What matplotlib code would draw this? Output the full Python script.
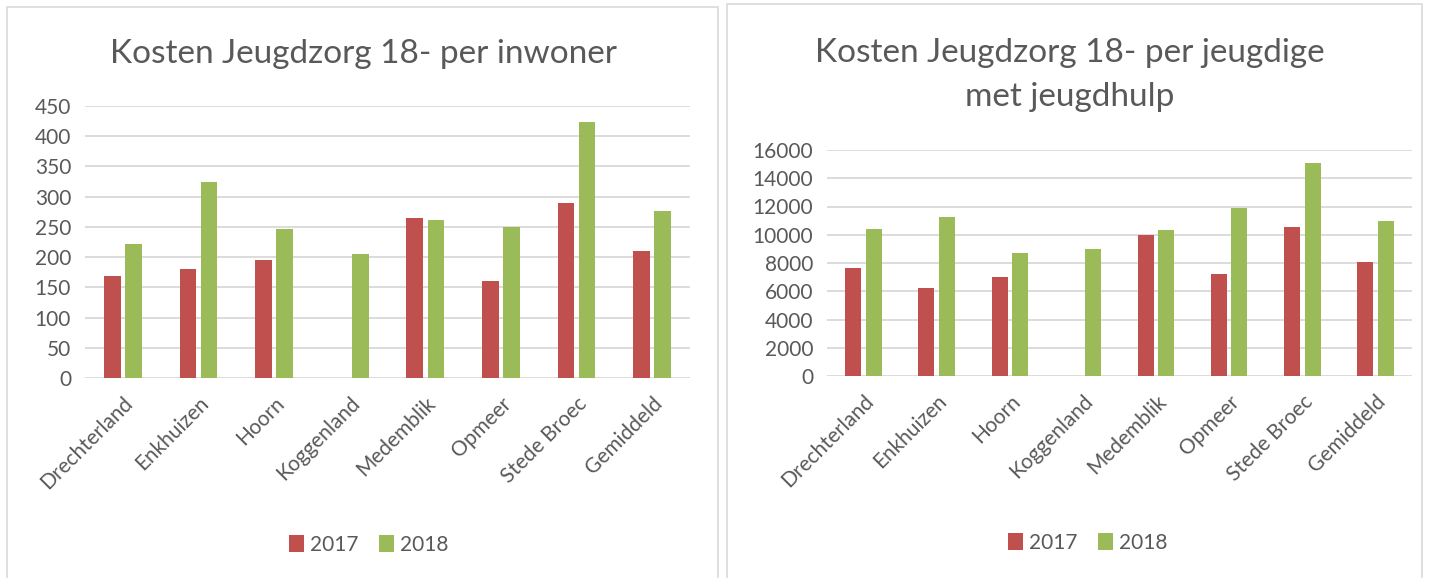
import matplotlib.pyplot as plt
import numpy as np
from matplotlib.patches import Rectangle

plt.rcParams['font.family'] = ['Lato', 'DejaVu Sans']

# data
gemeenten = ["Drechterland", "Enkhuizen", "Hoorn", "Koggenland",
             "Medemblik", "Opmeer", "Stede Broec", "Gemiddeld"]
inwoner_2017 = [169, 181, 196, 0, 265, 160, 290, 210]
inwoner_2018 = [221, 324, 246, 205, 262, 250, 423, 276]
jeugdige_2017 = [7650, 6230, 6990, 0, 10000, 7200, 10550, 8100]
jeugdige_2018 = [10430, 11230, 8730, 9010, 10310, 11920, 15100, 10970]

RED = "#C0504D"
GREEN = "#9BBB59"
GRID = "#D9D9D9"
TXT = "#595959"

W, H = 1431, 578
fig = plt.figure(figsize=(W / 100, H / 100), dpi=100)


def fx(px):
    return px / W


def fy(py):
    return 1 - py / H


# panel borders
for (x0, y0, x1, y1) in [(7, 7, 718, 590), (727, 4, 1422, 590)]:
    fig.patches.append(Rectangle((fx(x0), fy(y1)), fx(x1 - x0), (y1 - y0) / H,
                                 transform=fig.transFigure, fill=False,
                                 edgecolor=GRID, lw=1.2))


def draw(box, v17, v18, ymax, step, title, title_xy, legend_xy):
    x0, y0, x1, y1 = box
    ax = fig.add_axes([fx(x0), fy(y1), fx(x1 - x0), (y1 - y0) / H])
    x = np.arange(len(gemeenten))
    w = 0.22
    ax.bar(x - 0.14, v17, w, color=RED, label="2017", zorder=3)
    ax.bar(x + 0.14, v18, w, color=GREEN, label="2018", zorder=3)
    ax.set_xlim(-0.5, len(gemeenten) - 0.5)
    ax.set_ylim(0, ymax)
    ax.set_yticks(np.arange(0, ymax + 1, step))
    ax.yaxis.grid(True, color=GRID, lw=1.3, zorder=0)
    for s in ax.spines.values():
        s.set_visible(False)
    ax.tick_params(length=0, labelsize=15, colors=TXT, pad=10)
    ax.set_xticks(x)
    ax.set_xticklabels(gemeenten, rotation=45, ha="right", rotation_mode="anchor")
    ax.tick_params(axis="x", pad=11)
    fig.text(fx(title_xy[0]), fy(title_xy[1]), title, ha="center", va="center",
             fontsize=24, color=TXT, linespacing=1.6)
    fig.legend(*ax.get_legend_handles_labels(), loc="center",
               bbox_to_anchor=(fx(legend_xy[0]), fy(legend_xy[1])), ncol=2,
               frameon=False, fontsize=15, labelcolor=TXT, handlelength=0.7,
               handleheight=0.9, handletextpad=0.3, columnspacing=1.0)
    return ax


draw((85, 106, 690, 378), inwoner_2017, inwoner_2018, 450, 50,
     "Kosten Jeugdzorg 18- per inwoner", (364, 54), (369, 545))
draw((827, 150, 1412, 376), jeugdige_2017, jeugdige_2018, 16000, 2000,
     "Kosten Jeugdzorg 18- per jeugdige\nmet jeugdhulp", (1070, 75), (1088, 543))

fig.savefig("out.png", dpi=100, facecolor="white")
